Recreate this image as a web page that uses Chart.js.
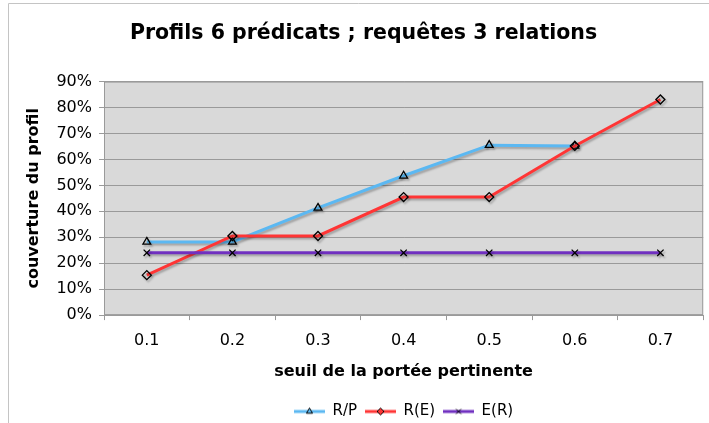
<!DOCTYPE html>
<html>
<head>
<meta charset="utf-8">
<script src="https://cdn.jsdelivr.net/npm/chart.js@4.4.0/dist/chart.umd.min.js"></script>
<style>
  html, body { margin: 0; padding: 0; background: #fff; }
  #wrap { width: 709px; height: 423px; }
</style>
</head>
<body>
<div id="wrap"><canvas id="couvertureChart" width="709" height="423"></canvas></div>
<script>
// seuils de portée pertinente
const seuils = ['0.1', '0.2', '0.3', '0.4', '0.5', '0.6', '0.7'];
// couverture du profil (%)
const rp = [28.2, 28.2, 41.3, 53.7, 65.5, 65.2, null];
const re = [15.4, 30.5, 30.5, 45.5, 45.5, 65.2, 83.1];
const er = [24, 24, 24, 24, 24, 24, 24];
const yTicks = [0, 10, 20, 30, 40, 50, 60, 70, 80, 90];

const FONT = '"DejaVu Sans", Verdana, sans-serif';

// fond gris de la zone de tracé + cadre fin autour du graphique
const fondPlugin = {
    id: 'fond',
    beforeDraw(chart) {
        const ctx = chart.ctx;
        const a = chart.chartArea;
        ctx.save();
        ctx.strokeStyle = '#c4c4c4';
        ctx.lineWidth = 1;
        ctx.beginPath();
        ctx.moveTo(8.5, 423);
        ctx.lineTo(8.5, 3.5);
        ctx.lineTo(709, 3.5);
        ctx.stroke();
        ctx.fillStyle = '#d9d9d9';
        ctx.fillRect(a.left, a.top, a.right - a.left, a.bottom - a.top);
        ctx.strokeStyle = '#9a9a9a';
        ctx.strokeRect(a.left + 0.5, a.top + 0.5, a.right - a.left - 1, a.bottom - a.top - 1);
        ctx.restore();
    }
};

// ombre portée sous les courbes
const ombrePlugin = {
    id: 'ombre',
    beforeDatasetDraw(chart) {
        const ctx = chart.ctx;
        ctx.save();
        ctx.shadowColor = 'rgba(0,0,0,0.25)';
        ctx.shadowBlur = 2;
        ctx.shadowOffsetX = 1.5;
        ctx.shadowOffsetY = 2;
    },
    afterDatasetDraw(chart) {
        chart.ctx.restore();
    }
};

// petit trait + marqueur pour la légende
function iconeLegende(couleur, style) {
    const c = document.createElement('canvas');
    c.width = 31;
    c.height = 10;
    const g = c.getContext('2d');
    g.strokeStyle = couleur;
    g.lineWidth = 3;
    g.beginPath();
    g.moveTo(0, 5);
    g.lineTo(31, 5);
    g.stroke();
    g.strokeStyle = '#000';
    g.fillStyle = couleur;
    g.lineWidth = 1;
    Chart.helpers.drawPoint(g, { pointStyle: style, radius: 3.5, borderWidth: 1 }, 15.5, 5);
    return c;
}

const series = [
    { label: 'R/P', data: rp, color: '#5bb8f2', style: 'triangle', order: 3 },
    { label: 'R(E)', data: re, color: '#ff3535', style: 'rectRot', order: 2 },
    { label: 'E(R)', data: er, color: '#7030c0', style: 'crossRot', order: 1 }
];

new Chart(document.getElementById('couvertureChart').getContext('2d'), {
    type: 'line',
    data: {
        labels: seuils,
        datasets: series.map(s => ({
            label: s.label,
            data: s.data,
            borderColor: s.color,
            backgroundColor: s.color,
            borderWidth: 3,
            pointStyle: s.style,
            pointRadius: 4.5,
            pointBorderColor: '#000',
            pointBackgroundColor: 'rgba(0,0,0,0)',
            pointBorderWidth: 1.3,
            tension: 0,
            spanGaps: false,
            order: s.order
        }))
    },
    options: {
        responsive: false,
        animation: false,
        layout: { padding: { left: 20, right: 2, top: 0, bottom: -6 } },
        plugins: {
            title: {
                display: true,
                text: 'Profils 6 prédicats ; requêtes 3 relations',
                color: '#000',
                font: { family: FONT, size: 20.5, weight: 'bold' },
                padding: { top: 21, bottom: 36 }
            },
            legend: {
                position: 'bottom',
                fullSize: false,
                labels: {
                    color: '#000',
                    font: { family: FONT, size: 15 },
                    usePointStyle: true,
                    pointStyleWidth: 31,
                    padding: 8,
                    generateLabels(chart) {
                        return chart.data.datasets.map((ds, i) => ({
                            text: ds.label,
                            fontColor: '#000',
                            pointStyle: iconeLegende(series[i].color, series[i].style),
                            hidden: false,
                            datasetIndex: i,
                            lineWidth: 0
                        }));
                    }
                }
            },
            tooltip: { enabled: false }
        },
        scales: {
            x: {
                offset: true,
                grid: {
                    offset: true,
                    drawOnChartArea: false,
                    drawTicks: true,
                    tickLength: 5,
                    color: '#9a9a9a'
                },
                border: { color: '#9a9a9a' },
                ticks: {
                    color: '#000',
                    font: { family: FONT, size: 16 },
                    padding: 11
                },
                title: {
                    display: true,
                    text: 'seuil de la portée pertinente',
                    color: '#000',
                    font: { family: FONT, size: 16, weight: 'bold' },
                    padding: { top: 1, bottom: 14.5 }
                }
            },
            y: {
                min: 0,
                max: 90,
                afterBuildTicks(scale) {
                    scale.ticks = yTicks.map(v => ({ value: v }));
                },
                afterFit(scale) {
                    scale.width = 84;
                },
                grid: {
                    color: '#9a9a9a',
                    lineWidth: 1,
                    drawTicks: true,
                    tickLength: 5
                },
                border: { color: '#9a9a9a' },
                ticks: {
                    color: '#000',
                    font: { family: FONT, size: 16 },
                    padding: 7,
                    callback: v => v + '%'
                },
                title: {
                    display: true,
                    text: 'couverture du profil',
                    color: '#000',
                    font: { family: FONT, size: 16, weight: 'bold' },
                    padding: { top: 4, bottom: 0 }
                }
            }
        }
    },
    plugins: [fondPlugin, ombrePlugin]
});
</script>
</body>
</html>
